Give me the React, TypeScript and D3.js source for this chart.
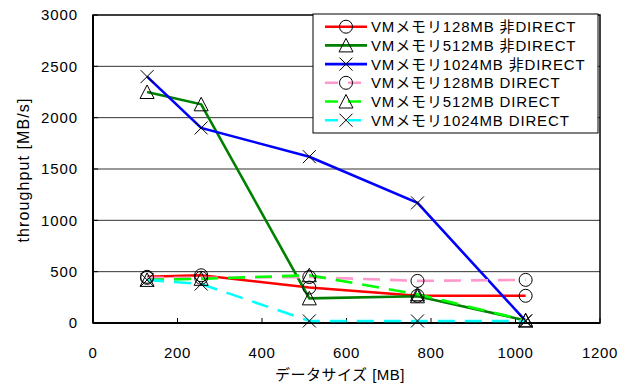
import React from "react";
import * as d3 from "d3";

const sizes = [128, 256, 512, 768, 1024];
const vm128Non = [450, 465, 345, 265, 265];
const vm512Non = [2250, 2130, 240, 260, 25];
const vm1024Non = [2400, 1900, 1620, 1170, 20];
const vm128Dir = [440, 440, 448, 410, 420];
const vm512Dir = [420, 430, 465, 280, 25];
const vm1024Dir = [420, 380, 20, 20, 20];

const seriesNames = [
  "VMメモリ128MB 非DIRECT",
  "VMメモリ512MB 非DIRECT",
  "VMメモリ1024MB 非DIRECT",
  "VMメモリ128MB DIRECT",
  "VMメモリ512MB DIRECT",
  "VMメモリ1024MB DIRECT",
];
const seriesValues = [vm128Non, vm512Non, vm1024Non, vm128Dir, vm512Dir, vm1024Dir];
const seriesColors = ["#ff0000", "#008000", "#0000ff", "#ff99cc", "#00ff00", "#00ffff"];
const seriesMarkers = ["circle", "triangle", "x", "circle", "triangle", "x"];
const seriesDashed = [false, false, false, true, true, true];

const xTicks = [0, 200, 400, 600, 800, 1000, 1200];
const yTicks = [0, 500, 1000, 1500, 2000, 2500, 3000];
const xTitle = "データサイズ [MB]";
const yTitle = "throughput [MB/s]";

const W = 629, H = 385;
const L = 93, R = 600, T = 15, B = 323;
const FONT = "'Liberation Sans', 'Noto Sans CJK JP', sans-serif";

function Marker({ type, x, y }: { type: string; x: number; y: number }) {
  const s = 6.5;
  if (type === "circle")
    return <circle cx={x} cy={y} r={s} fill="none" stroke="#000" strokeWidth={1} />;
  if (type === "triangle")
    return (
      <path
        d={`M${x},${y - s - 0.5}L${x + s + 0.5},${y + s}L${x - s - 0.5},${y + s}Z`}
        fill="none"
        stroke="#000"
        strokeWidth={1}
      />
    );
  return (
    <path
      d={`M${x - s},${y - s}L${x + s},${y + s}M${x + s},${y - s}L${x - s},${y + s}`}
      fill="none"
      stroke="#000"
      strokeWidth={1}
    />
  );
}

export default function App() {
  const x = d3.scaleLinear().domain([0, 1200]).range([L, R]);
  const y = d3.scaleLinear().domain([0, 3000]).range([B, T]);
  const line = d3
    .line<number>()
    .x((_, i) => x(sizes[i]))
    .y((v) => y(v));

  const legX = 313, legY = 14, legW = 285, legH = 119;
  const rowH = 18.7;

  return (
    <svg
      width={W}
      height={H}
      style={{ position: "absolute", left: 0, top: 0, background: "#fff" }}
      fontFamily={FONT}
    >
      <rect x={0} y={0} width={W} height={H} fill="#fff" />
      {/* gridlines */}
      {yTicks.slice(1, -1).map((t) => (
        <line key={"g" + t} x1={L} x2={R} y1={y(t)} y2={y(t)} stroke="#333" strokeWidth={1} />
      ))}
      {/* ticks */}
      {yTicks.map((t) => (
        <line key={"yt" + t} x1={L} x2={L + 5} y1={y(t)} y2={y(t)} stroke="#000" strokeWidth={1} />
      ))}
      {xTicks.map((t) => (
        <line key={"xt" + t} x1={x(t)} x2={x(t)} y1={B} y2={B - 5} stroke="#000" strokeWidth={1} />
      ))}
      {/* frame */}
      <rect x={L} y={T} width={R - L} height={B - T} fill="none" stroke="#000" strokeWidth={1.5} />
      <line x1={L} x2={L} y1={T} y2={B} stroke="#000" strokeWidth={2} />
      <line x1={L} x2={R} y1={B} y2={B} stroke="#000" strokeWidth={2} />

      {/* lines */}
      {seriesValues.map((vals, i) => (
        <path
          key={"l" + i}
          d={line(vals) || ""}
          fill="none"
          stroke={seriesColors[i]}
          strokeWidth={2.6}
          strokeDasharray={seriesDashed[i] ? "17,10" : undefined}
        />
      ))}
      {/* markers */}
      {seriesValues.map((vals, i) =>
        vals.map((v, j) => (
          <Marker key={"m" + i + "-" + j} type={seriesMarkers[i]} x={x(sizes[j])} y={y(v)} />
        ))
      )}

      {/* axis labels */}
      {yTicks.map((t) => (
        <text
          key={"yl" + t}
          x={78}
          y={y(t)}
          dy="0.36em"
          textAnchor="end"
          fontSize={15}
          letterSpacing={0.9}
          fill="#000"
        >
          {t}
        </text>
      ))}
      {xTicks.map((t) => (
        <text
          key={"xl" + t}
          x={x(t)}
          y={358}
          textAnchor="middle"
          fontSize={15}
          letterSpacing={0.7}
          fill="#000"
        >
          {t}
        </text>
      ))}
      <text x={340} y={380} textAnchor="middle" fontSize={15} letterSpacing={0.5} fill="#000">
        {xTitle}
      </text>
      <text
        transform={`translate(29,170) rotate(-90)`}
        textAnchor="middle"
        fontSize={16}
        letterSpacing={1.1}
        fill="#000"
      >
        {yTitle}
      </text>

      {/* legend */}
      <rect x={legX} y={legY} width={legW} height={legH} fill="#fff" stroke="#000" strokeWidth={1} />
      {seriesNames.map((name, i) => {
        const cy = legY + 12.7 + i * rowH;
        return (
          <g key={"lg" + i}>
            <line
              x1={325}
              x2={367}
              y1={cy}
              y2={cy}
              stroke={seriesColors[i]}
              strokeWidth={2.6}
              strokeDasharray={seriesDashed[i] ? "13,10" : undefined}
            />
            <Marker type={seriesMarkers[i]} x={346} y={cy} />
            <text x={371} y={cy} dy="0.36em" fontSize={15} letterSpacing={0.85} fill="#000">
              {name}
            </text>
          </g>
        );
      })}
    </svg>
  );
}
